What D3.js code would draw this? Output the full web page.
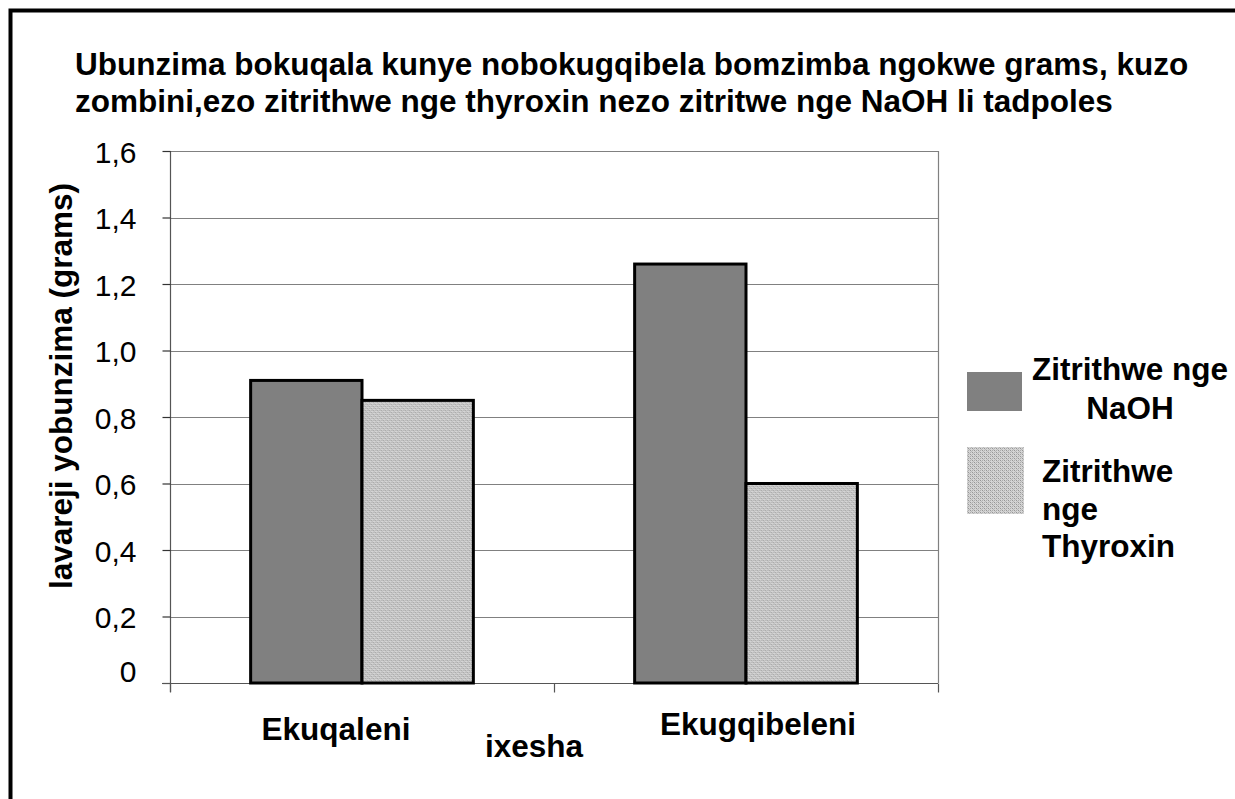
<!DOCTYPE html>
<html>
<head>
<meta charset="utf-8">
<script src="https://cdn.jsdelivr.net/npm/d3@7"></script>
<style>
  html, body { margin: 0; padding: 0; background: #fff; }
  svg { display: block; }
  text { font-family: "Liberation Sans", Arial, sans-serif; fill: #000; }
</style>
</head>
<body>
<svg id="chart" width="1235" height="799"></svg>
<script>
// ---- data ----
const titleLines = [
  "Ubunzima bokuqala kunye nobokugqibela bomzimba ngokwe grams, kuzo",
  "zombini,ezo zitrithwe nge thyroxin nezo zitritwe nge NaOH li tadpoles"
];
const categories = ["Ekuqaleni", "Ekugqibeleni"];
const seriesNames = ["Zitrithwe nge NaOH", "Zitrithwe nge Thyroxin"];
const naohValues = [0.91, 1.26];
const thyroxinValues = [0.85, 0.60];
const yTickValues = [0, 0.2, 0.4, 0.6, 0.8, 1.0, 1.2, 1.4, 1.6];
const yTickLabels = ["0", "0,2", "0,4", "0,6", "0,8", "1,0", "1,2", "1,4", "1,6"];
const legendLines = [["Zitrithwe nge", "NaOH"], ["Zitrithwe", "nge", "Thyroxin"]];
const yAxisTitle = "lavareji yobunzima (grams)";
const xAxisTitle = "ixesha";

// ---- layout ----
const svg = d3.select("#chart");
const plot = { left: 170, right: 938, top: 151, bottom: 683 };

// pattern for thyroxin
const defs = svg.append("defs");
const pat = defs.append("pattern").attr("id", "dots")
  .attr("width", 4).attr("height", 4).attr("patternUnits", "userSpaceOnUse");
pat.append("rect").attr("width", 4).attr("height", 4).attr("fill", "#d4d4d4");
[[0,0,"#959595"],[2,2,"#959595"],[2,0,"#adadad"],[0,2,"#adadad"],[1,1,"#b8b8b8"],[3,3,"#b8b8b8"]]
  .forEach(p => pat.append("rect").attr("x", p[0]).attr("y", p[1]).attr("width", 1).attr("height", 1).attr("fill", p[2]));

const colors = ["#808080", "url(#dots)"];

svg.append("rect").attr("width", 1235).attr("height", 799).attr("fill", "#fff");

// outer frame
svg.append("rect").attr("x", 10.5).attr("y", 10.5).attr("width", 1240).attr("height", 800)
  .attr("fill", "none").attr("stroke", "#000").attr("stroke-width", 4);

// title
svg.append("g").selectAll("text").data(titleLines).join("text")
  .attr("x", 75).attr("y", (d, i) => 75 + i * 37)
  .attr("font-size", 31.5).attr("font-weight", "bold")
  .text(d => d);

// scales
const y = d3.scaleLinear().domain([0, 1.6]).range([plot.bottom, plot.top]);
const x0 = d3.scaleBand().domain(categories).range([plot.left, plot.right])
  .paddingInner(0.42).paddingOuter(0.21);
const x1 = d3.scaleBand().domain(seriesNames).range([0, x0.bandwidth()]).padding(0);

// gridlines
svg.append("g").selectAll("line").data(yTickValues.filter(v => v > 0)).join("line")
  .attr("x1", plot.left).attr("x2", plot.right)
  .attr("y1", d => Math.round(y(d)) + 0.5).attr("y2", d => Math.round(y(d)) + 0.5)
  .attr("stroke", "#808080").attr("stroke-width", 1.2);
// right border of plot area
svg.append("line").attr("x1", plot.right + 0.5).attr("x2", plot.right + 0.5)
  .attr("y1", plot.top).attr("y2", plot.bottom)
  .attr("stroke", "#808080").attr("stroke-width", 1.2);

// y axis
const yAxis = d3.axisLeft(y).tickValues(yTickValues).tickSize(8).tickPadding(0)
  .tickFormat((d, i) => yTickLabels[i]);
const gy = svg.append("g").attr("transform", `translate(${plot.left + 0.5},0)`).call(yAxis);
gy.select(".domain").attr("stroke", "#555").attr("stroke-width", 1.2)
  .attr("d", `M0,${plot.top}V${plot.bottom + 9}`);
gy.selectAll(".tick line").attr("stroke", "#333").attr("stroke-width", 1.2);
gy.selectAll(".tick text").attr("x", -34).attr("dy", d => d === 0 ? "-0.05em" : "0.37em")
  .attr("font-size", 30).attr("font-family", "'Liberation Sans', Arial, sans-serif").attr("fill", "#000");

// x axis
const gx = svg.append("g").attr("transform", `translate(0,${plot.bottom + 0.5})`);
gx.append("line").attr("x1", plot.left - 8).attr("x2", plot.right).attr("y1", 0).attr("y2", 0)
  .attr("stroke", "#555").attr("stroke-width", 1.2);
const boundaries = [plot.left, (x0(categories[0]) + x0.bandwidth() + x0(categories[1])) / 2, plot.right];
gx.selectAll("line.tk").data(boundaries).join("line").attr("class", "tk")
  .attr("x1", d => d + 0.5).attr("x2", d => d + 0.5).attr("y1", 0).attr("y2", 9)
  .attr("stroke", "#555").attr("stroke-width", 1.2);

// bars
const groups = svg.append("g").selectAll("g").data(categories).join("g")
  .attr("transform", d => `translate(${x0(d)},0)`);
groups.selectAll("rect").data((d, i) => [
  { s: seriesNames[0], v: naohValues[i], k: 0 },
  { s: seriesNames[1], v: thyroxinValues[i], k: 1 }
]).join("rect")
  .attr("x", d => x1(d.s)).attr("width", x1.bandwidth())
  .attr("y", d => y(d.v)).attr("height", d => y(0) - y(d.v))
  .attr("fill", d => colors[d.k]).attr("stroke", "#000").attr("stroke-width", 3);

// category labels
const catDx = [-26, 12];
const catDy = [57, 52];
svg.append("g").selectAll("text").data(categories).join("text")
  .attr("x", (d, i) => x0(d) + x0.bandwidth() / 2 + catDx[i])
  .attr("y", (d, i) => plot.bottom + catDy[i])
  .attr("text-anchor", "middle").attr("font-size", 31.5).attr("font-weight", "bold")
  .text(d => d);

// x axis title
svg.append("text").attr("x", 534).attr("y", 757).attr("text-anchor", "middle")
  .attr("font-size", 31.5).attr("font-weight", "bold").text(xAxisTitle);

// y axis title
svg.append("text").attr("transform", "translate(72,386) rotate(-90)")
  .attr("text-anchor", "middle").attr("font-size", 31.5).attr("font-weight", "bold")
  .text(yAxisTitle);

// legend
const legendBoxes = [
  { x: 967, y: 372, w: 55, h: 39 },
  { x: 967, y: 447, w: 57, h: 67 }
];
const leg = svg.append("g");
leg.selectAll("rect").data(seriesNames).join("rect")
  .attr("x", (d, i) => legendBoxes[i].x).attr("y", (d, i) => legendBoxes[i].y)
  .attr("width", (d, i) => legendBoxes[i].w).attr("height", (d, i) => legendBoxes[i].h)
  .attr("fill", (d, i) => colors[i]);
// NaOH label: centered
leg.append("text").attr("text-anchor", "middle").attr("font-size", 31.5).attr("font-weight", "bold")
  .selectAll("tspan").data(legendLines[0]).join("tspan")
  .attr("x", 1130).attr("y", (d, i) => 380 + i * 39).text(d => d);
// Thyroxin label: left
leg.append("text").attr("text-anchor", "start").attr("font-size", 31.5).attr("font-weight", "bold")
  .selectAll("tspan").data(legendLines[1]).join("tspan")
  .attr("x", 1042).attr("y", (d, i) => 482 + i * 37.5).text(d => d);
</script>
</body>
</html>
